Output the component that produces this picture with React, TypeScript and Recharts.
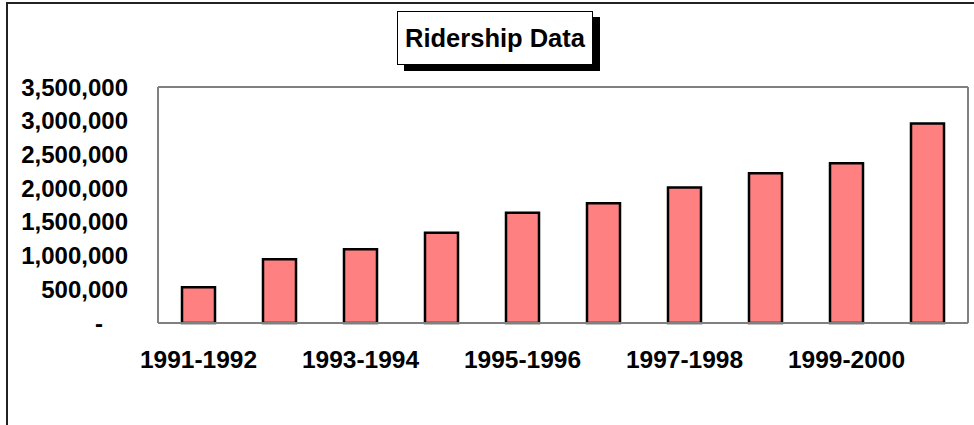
import React from 'react';
import { Bar, BarChart, ReferenceLine, XAxis, YAxis } from 'recharts';

const seasons = [
  '1991-1992',
  '1992-1993',
  '1993-1994',
  '1994-1995',
  '1995-1996',
  '1996-1997',
  '1997-1998',
  '1998-1999',
  '1999-2000',
  '2000-2001'
];
const riders = [530000, 945000, 1095000, 1340000, 1635000, 1775000, 2010000, 2220000, 2370000, 2960000];
const yTicks = [0, 500000, 1000000, 1500000, 2000000, 2500000, 3000000, 3500000];

const data = seasons.map((season, i) => ({ season, riders: riders[i] }));

const FONT = '"Liberation Sans", Arial, sans-serif';

function YTick(props: any) {
  const { x, y, payload } = props;
  const v = payload.value as number;
  const label = v === 0 ? '-' : v.toLocaleString('en-US');
  return (
    <text
      x={v === 0 ? x - 25 : x}
      y={y}
      dy="0.355em"
      textAnchor="end"
      fontFamily={FONT}
      fontWeight="bold"
      fontSize={24}
      fill="#000"
    >
      {label}
    </text>
  );
}

export default function App() {
  return (
    <div
      style={{
        position: 'fixed',
        left: 0,
        top: 0,
        width: 974,
        height: 425,
        background: '#fff',
        overflow: 'hidden'
      }}
    >
      {/* outer chart frame, only top and left edges visible */}
      <div
        style={{
          position: 'absolute',
          left: 6,
          top: 2,
          width: 1000,
          height: 500,
          border: '2px solid #222'
        }}
      />
      <BarChart
        width={974}
        height={425}
        data={data}
        margin={{ top: 87, right: 0, bottom: 0, left: 0 }}
        barSize={33}
        style={{ position: 'absolute', left: 0, top: 0 }}
      >
        <XAxis
          dataKey="season"
          height={102}
          interval={1}
          tickLine={false}
          tickMargin={22}
          axisLine={{ stroke: '#808080', strokeWidth: 2 }}
          tick={{ fontFamily: FONT, fontWeight: 'bold', fontSize: 24.5, fill: '#000' }}
        />
        <YAxis
          width={158}
          domain={[0, 3500000]}
          ticks={yTicks}
          interval={0}
          tickLine={false}
          tickMargin={24}
          axisLine={{ stroke: '#808080', strokeWidth: 2 }}
          tick={<YTick />}
        />
        <YAxis
          yAxisId="right"
          orientation="right"
          width={6}
          domain={[0, 3500000]}
          tick={false}
          tickLine={false}
          axisLine={{ stroke: '#808080', strokeWidth: 2 }}
        />
        <ReferenceLine y={3500000} stroke="#808080" strokeWidth={2} ifOverflow="visible" />
        <Bar dataKey="riders" fill="#FF8080" stroke="#000" strokeWidth={2.5} isAnimationActive={false} />
      </BarChart>
      {/* title box with drop shadow */}
      <div
        style={{
          position: 'absolute',
          left: 397,
          top: 11,
          width: 194,
          height: 52,
          border: '1.5px solid #000',
          background: '#fff',
          boxShadow: '7px 6px 0 #000',
          display: 'flex',
          alignItems: 'center',
          justifyContent: 'center',
          fontFamily: FONT,
          fontWeight: 'bold',
          fontSize: 25.5,
          color: '#000'
        }}
      >
        Ridership Data
      </div>
    </div>
  );
}
